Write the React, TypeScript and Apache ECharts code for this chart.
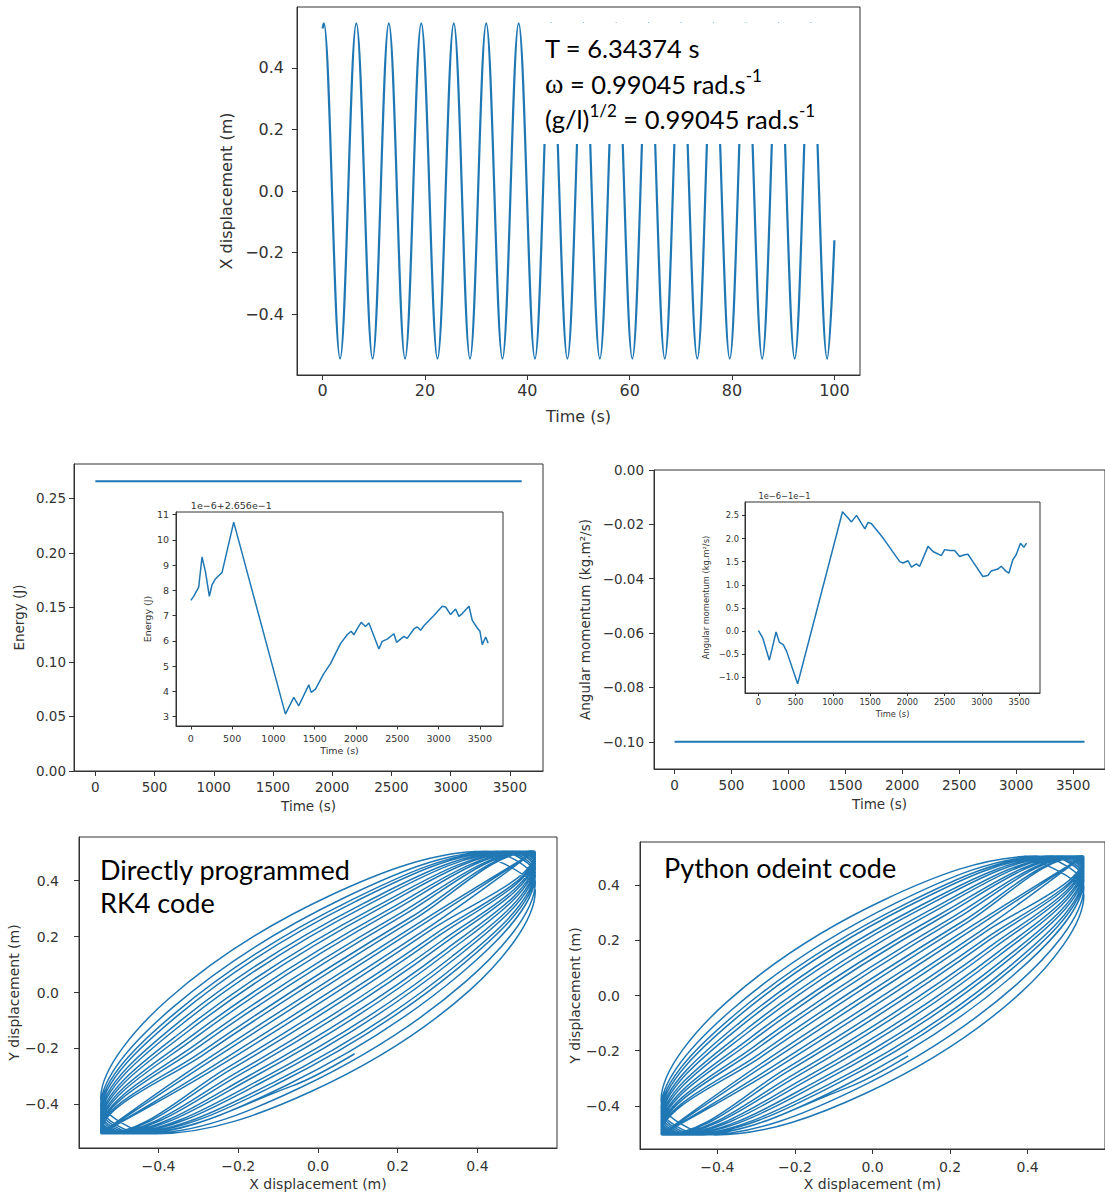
import React, { useEffect, useRef } from 'react';
import * as echarts from 'echarts';

const BLUE = '#1f77b4';
const INK = '#333333';
const FONT = 'DejaVu Sans';
const SLIDE_FONT = 'Lato';

// ---------- Top panel: X displacement vs time (turning points)
const swingTime = [0, 0.25, 3.42, 6.59, 9.77, 12.94, 16.11, 19.28, 22.45, 25.63, 28.8, 31.97, 35.14, 38.31, 41.49, 44.66, 47.83, 51.0, 54.17, 57.35, 60.52, 63.69, 66.86, 70.03, 73.21, 76.38, 79.55, 82.72, 85.89, 89.07, 92.24, 95.41, 98.58, 100];
const swingX = [0.528,
  0.545, -0.545, 0.545, -0.545, 0.545, -0.545, 0.545, -0.545,
  0.545, -0.545, 0.545, -0.545, 0.545, -0.545, 0.545, -0.545,
  0.545, -0.545, 0.545, -0.545, 0.545, -0.545, 0.545, -0.545,
  0.545, -0.545, 0.545, -0.545, 0.545, -0.545, 0.545, -0.545,
  -0.16];
const timeTicks = [0, 20, 40, 60, 80, 100];
const dispTicks = [-0.4, -0.2, 0, 0.2, 0.4];

// ---------- Middle panels
const longTime = [0, 3600];
const energyMain = [0.2656, 0.2656];
const angularMain = [-0.1, -0.1];
const longTimeTicks = [0, 500, 1000, 1500, 2000, 2500, 3000, 3500];
const energyTicks = [0, 0.05, 0.1, 0.15, 0.2, 0.25];
const angularTicks = [-0.1, -0.08, -0.06, -0.04, -0.02, 0];

const energyInsetTime = [0, 34, 95, 135, 176, 224, 257, 297, 337, 378, 519, 1145, 1246, 1307, 1428, 1457, 1509, 1610, 1691, 1812, 1893, 1941, 1974, 2014, 2063, 2115, 2156, 2277, 2317, 2378, 2459, 2491, 2580, 2620, 2701, 2742, 2782, 2822, 2943, 3044, 3085, 3145, 3206, 3246, 3287, 3368, 3408, 3469, 3501, 3529, 3570, 3600];
const energyInsetDev = [7.60, 7.76, 8.13, 9.32, 8.75, 7.76, 8.23, 8.45, 8.58, 8.71, 10.70, 3.10, 3.76, 3.43, 4.26, 3.96, 4.09, 4.70, 5.10, 5.89, 6.24, 6.38, 6.24, 6.47, 6.73, 6.57, 6.71, 5.68, 5.98, 6.07, 6.28, 5.94, 6.18, 6.10, 6.47, 6.55, 6.42, 6.60, 7.00, 7.37, 7.34, 7.04, 7.26, 6.97, 7.08, 7.37, 6.81, 6.51, 6.38, 5.85, 6.15, 5.91];
const energyInsetTicks = [3, 4, 5, 6, 7, 8, 9, 10, 11];

const angularInsetTime = [0, 58, 147, 237, 281, 335, 379, 527, 1129, 1183, 1250, 1317, 1429, 1473, 1518, 1674, 1897, 1942, 2009, 2054, 2121, 2165, 2277, 2344, 2455, 2500, 2567, 2634, 2701, 2768, 2813, 2879, 3013, 3080, 3125, 3214, 3259, 3326, 3362, 3415, 3460, 3518, 3563, 3600];
const angularInsetDev = [0.01, -0.15, -0.63, -0.02, -0.24, -0.30, -0.44, -1.14, 2.58, 2.48, 2.36, 2.50, 2.21, 2.35, 2.32, 2.01, 1.50, 1.47, 1.52, 1.38, 1.45, 1.40, 1.83, 1.72, 1.63, 1.76, 1.74, 1.74, 1.61, 1.65, 1.66, 1.50, 1.18, 1.20, 1.30, 1.34, 1.40, 1.29, 1.25, 1.54, 1.65, 1.90, 1.81, 1.90];
const angularInsetTicks = [-1, -0.5, 0, 0.5, 1, 1.5, 2, 2.5];

// ---------- Bottom panels: X–Y orbit, eight points read per loop
const orbitX = [
  0.3924,
  0.545, 0.3817, -0.0146, -0.4050, -0.545, -0.3760, 0.0304, 0.4213,
  0.545, 0.3703, -0.0462, -0.4360, -0.545, -0.3643, 0.0620, 0.4499,
  0.545, 0.3585, -0.0779, -0.4630, -0.545, -0.3523, 0.0936, 0.4752,
  0.545, 0.3464, -0.1093, -0.4865, -0.545, -0.3401, 0.1249, 0.4968,
  0.545, 0.3338, -0.1404, -0.5061, -0.545, -0.3274, 0.1557, 0.5145,
  0.545, 0.3210, -0.1710, -0.5219, -0.545, -0.3145, 0.1860, 0.5283,
  0.545, 0.3080, -0.2010, -0.5337, -0.545, -0.3014, 0.2157, 0.5380,
  0.545, 0.2947, -0.2303, -0.5413, -0.545, -0.2880, 0.2446, 0.5436,
  0.545, 0.2812, -0.2588, -0.545, -0.2743, 0.2725,
  0.545, 0.2622, -0.2794, -0.545, -0.2481, 0.2863,
  0.545, 0.5416, 0.2339, -0.2931, -0.545, -0.5385, -0.2193, 0.2997,
  0.545, 0.5341, 0.2046, -0.3064, -0.545, -0.5291, -0.1897, 0.3129,
  0.545, 0.5223, 0.1747, -0.3194, -0.545, -0.5156, -0.1594, 0.3258,
  0.545, 0.5067, 0.1442, -0.3322, -0.545, -0.4981, -0.1287, 0.3385,
  0.545, 0.4869, 0.1132, -0.3447, -0.545, -0.4768, -0.0976, 0.3508,
  0.545, 0.4637, 0.0818, -0.3570, -0.545, -0.4517, -0.0658, 0.0918,
];
const orbitY = [
  0.505,
  0.3633, 0.0094, -0.3522, -0.505, -0.3782, -0.0240, 0.3470, 0.505,
  0.3927, 0.0387, -0.3416, -0.505, -0.4062, -0.0534, 0.3362, 0.505,
  0.4190, 0.0681, -0.3306, -0.505, -0.4310, -0.0827, 0.3250, 0.505,
  0.4421, 0.0973, -0.3193, -0.505, -0.4524, -0.1118, 0.3136, 0.505,
  0.4618, 0.1261, -0.3077, -0.505, -0.4704, -0.1404, 0.3018, 0.505,
  0.4779, 0.1545, -0.2958, -0.505, -0.4846, -0.1685, 0.2898, 0.505,
  0.4904, 0.1824, -0.2837, -0.505, -0.4953, -0.1961, 0.2775, 0.505,
  0.4991, 0.2097, -0.2713, -0.505, -0.5020, -0.2230, 0.2651, 0.505,
  0.5039, 0.2362, -0.2588, -0.5049, -0.2491, 0.2522,
  0.5049, 0.2572, -0.2393, -0.5039, -0.2636, 0.2262,
  0.5019, 0.505, 0.2699, -0.2129, -0.4990, -0.505, -0.2761, 0.1995,
  0.4951, 0.505, 0.2821, -0.1858, -0.4903, -0.505, -0.2883, 0.1720,
  0.4845, 0.505, 0.2944, -0.1580, -0.4777, -0.505, -0.3003, 0.1439,
  0.4701, 0.505, 0.3062, -0.1296, -0.4615, -0.505, -0.3121, 0.1153,
  0.4521, 0.505, 0.3179, -0.1008, -0.4418, -0.505, -0.3236, 0.0864,
  0.4306, 0.505, 0.3293, -0.0717, -0.4186, -0.505, -0.3347, -0.2190,
];
const phaseTicks = [-0.4, -0.2, 0, 0.2, 0.4];

const fmt = (dec: number) => (v: number) => {
  const s = Math.abs(v).toFixed(dec);
  return (v < -1e-9 ? '\u2212' : '') + s;
};

const zip = (a: number[], b: number[]) => a.map((v, i) => [v, b[i]]);

type AxOpt = {
  name: string; nameGap: number; nameSize: number; size: number; dec: number;
  margin: number; tick: number;
};

function xAx(gridIndex: number, min: number, max: number, ticks: number[], o: AxOpt) {
  return {
    type: 'value', gridIndex, min, max, position: 'bottom',
    name: o.name, nameLocation: 'middle', nameGap: o.nameGap,
    nameTextStyle: { fontFamily: FONT, fontSize: o.nameSize, color: INK },
    axisLine: { show: true, onZero: false, lineStyle: { color: INK, width: 1 } },
    axisTick: { show: true, inside: false, length: o.tick, customValues: ticks, lineStyle: { color: INK, width: 1 } },
    axisLabel: { show: true, customValues: ticks, formatter: fmt(o.dec), fontFamily: FONT, fontSize: o.size, color: INK, margin: o.margin },
    splitLine: { show: false },
  };
}

function yAx(gridIndex: number, min: number, max: number, ticks: number[], o: AxOpt) {
  return {
    type: 'value', gridIndex, min, max, position: 'left',
    name: o.name, nameLocation: 'middle', nameGap: o.nameGap,
    nameTextStyle: { fontFamily: FONT, fontSize: o.nameSize, color: INK },
    axisLine: { show: true, onZero: false, lineStyle: { color: INK, width: 1 } },
    axisTick: { show: true, inside: false, length: o.tick, customValues: ticks, lineStyle: { color: INK, width: 1 } },
    axisLabel: { show: true, customValues: ticks, formatter: fmt(o.dec), fontFamily: FONT, fontSize: o.size, color: INK, margin: o.margin },
    splitLine: { show: false },
  };
}

function offsetAx(gridIndex: number, min: number, max: number, text: string, size: number) {
  return {
    type: 'value', gridIndex, min, max, position: 'left',
    name: text, nameLocation: 'end', nameGap: 2,
    nameTextStyle: { fontFamily: FONT, fontSize: size, color: INK, align: 'left', verticalAlign: 'bottom' },
    axisLine: { show: false }, axisTick: { show: false }, axisLabel: { show: false }, splitLine: { show: false },
  };
}

const line = (xi: number, yi: number, data: number[][], width: number, extra: any = {}) => ({
  type: 'line', xAxisIndex: xi, yAxisIndex: yi, data,
  symbol: 'none', showSymbol: false, silent: true,
  lineStyle: { color: BLUE, width }, itemStyle: { color: BLUE },
  ...extra,
});

const frame = { show: true, borderColor: INK, borderWidth: 1, backgroundColor: '#ffffff' };

function buildOption() {
  const sup = { fontFamily: SLIDE_FONT, fontSize: 17, color: '#000', padding: [0, 0, 17, 0] };
  const n = { fontFamily: SLIDE_FONT, fontSize: 25.5, color: '#000', lineHeight: 32 };
  const w = { fontFamily: 'Liberation Serif', fontSize: 28, color: '#000', lineHeight: 32 };
  return {
    animation: false,
    backgroundColor: '#ffffff',
    textStyle: { fontFamily: FONT },
    grid: [
      { left: 297, top: 7, width: 563, height: 368, ...frame },
      { left: 74, top: 464, width: 469, height: 307, ...frame },
      { left: 176, top: 512, width: 327, height: 214, ...frame },
      { left: 654, top: 470, width: 459, height: 299, ...frame },
      { left: 745, top: 502, width: 295, height: 191, ...frame },
      { left: 79, top: 837, width: 478, height: 311, ...frame },
      { left: 640, top: 842, width: 473, height: 307, ...frame },
    ],
    xAxis: [
      xAx(0, -5, 105, timeTicks, { name: 'Time (s)', nameGap: 33, nameSize: 16, size: 16, dec: 0, margin: 7, tick: 5 }),
      xAx(1, -180, 3780, longTimeTicks, { name: 'Time (s)', nameGap: 28, nameSize: 13.5, size: 13.5, dec: 0, margin: 9, tick: 5 }),
      xAx(2, -180, 3780, longTimeTicks, { name: 'Time (s)', nameGap: 19, nameSize: 9.5, size: 9.5, dec: 0, margin: 7, tick: 3.5 }),
      xAx(3, -180, 3780, longTimeTicks, { name: 'Time (s)', nameGap: 28, nameSize: 13.5, size: 13.5, dec: 0, margin: 9, tick: 5 }),
      xAx(4, -180, 3780, longTimeTicks, { name: 'Time (s)', nameGap: 17, nameSize: 8.3, size: 8.3, dec: 0, margin: 5, tick: 3 }),
      xAx(5, -0.5995, 0.5995, phaseTicks, { name: 'X displacement (m)', nameGap: 29, nameSize: 14, size: 14, dec: 1, margin: 11, tick: 5 }),
      xAx(6, -0.5995, 0.5995, phaseTicks, { name: 'X displacement (m)', nameGap: 28, nameSize: 14, size: 14, dec: 1, margin: 11, tick: 5 }),
    ],
    yAxis: [
      yAx(0, -0.598, 0.598, dispTicks, { name: 'X displacement (m)', nameGap: 63, nameSize: 16, size: 16, dec: 1, margin: 13, tick: 5 }),
      yAx(1, 0, 0.2815, energyTicks, { name: 'Energy (J)', nameGap: 48, nameSize: 13.5, size: 13.5, dec: 2, margin: 8, tick: 5 }),
      yAx(2, 2.63, 11.1, energyInsetTicks, { name: 'Energy (J)', nameGap: 24, nameSize: 9.5, size: 9.5, dec: 0, margin: 7, tick: 3.5 }),
      offsetAx(2, 2.63, 11.1, '1e\u22126+2.656e\u22121', 9.5),
      yAx(3, -0.11, 0, angularTicks, { name: 'Angular momentum (kg.m\u00b2/s)', nameGap: 62, nameSize: 13.5, size: 13.5, dec: 2, margin: 10, tick: 5 }),
      yAx(4, -1.34, 2.79, angularInsetTicks, { name: 'Angular momentum (kg.m\u00b2/s)', nameGap: 35, nameSize: 8.3, size: 8.3, dec: 1, margin: 6, tick: 3 }),
      offsetAx(4, -1.34, 2.79, '1e\u22126\u22121e\u22121', 8.3),
      yAx(5, -0.556, 0.556, phaseTicks, { name: 'Y displacement (m)', nameGap: 56, nameSize: 14, size: 14, dec: 1, margin: 20, tick: 5 }),
      yAx(6, -0.556, 0.556, phaseTicks, { name: 'Y displacement (m)', nameGap: 53, nameSize: 14, size: 14, dec: 1, margin: 20, tick: 5 }),
    ],
    series: [
      line(0, 0, zip(swingTime, swingX), 2.2, { smooth: 0.36, smoothMonotone: 'x' }),
      line(1, 1, zip(longTime, energyMain), 2),
      line(2, 2, zip(energyInsetTime, energyInsetDev), 1.5),
      line(3, 4, zip(longTime, angularMain), 2),
      line(4, 5, zip(angularInsetTime, angularInsetDev), 1.5),
      line(5, 7, zip(orbitX, orbitY), 1.5, { smooth: 0.35 }),
      line(6, 8, zip(orbitX, orbitY), 1.5, { smooth: 0.35 }),
    ],
    graphic: [
      { type: 'rect', z: 100, shape: { x: 541, y: 23, width: 317, height: 121 }, style: { fill: '#ffffff' } },
      { type: 'text', z: 101, x: 545, y: 47.5, style: { text: '{n|T = 6.34374 s}', rich: { n }, verticalAlign: 'middle', align: 'left' } },
      { type: 'text', z: 101, x: 545, y: 83.5, style: { text: '{w|\u03c9}{n| = 0.99045 rad.s}{s|-1}', rich: { n, w, s: sup }, verticalAlign: 'middle', align: 'left' } },
      { type: 'text', z: 101, x: 545, y: 118.5, style: { text: '{n|(g/l)}{s|1/2}{n| = 0.99045 rad.s}{s|-1}', rich: { n, s: sup }, verticalAlign: 'middle', align: 'left' } },
      { type: 'text', z: 101, x: 100, y: 853, style: { text: 'Directly programmed\nRK4 code', fontFamily: SLIDE_FONT, fontSize: 27, lineHeight: 33, fill: '#000', verticalAlign: 'top', align: 'left' } },
      { type: 'text', z: 101, x: 664, y: 851, style: { text: 'Python odeint code', fontFamily: SLIDE_FONT, fontSize: 27, lineHeight: 33, fill: '#000', verticalAlign: 'top', align: 'left' } },
    ],
  };
}

export default function App() {
  const ref = useRef<HTMLDivElement>(null);
  useEffect(() => {
    const chart = echarts.init(ref.current as HTMLDivElement, null, { renderer: 'svg' });
    chart.setOption(buildOption() as any);
    return () => chart.dispose();
  }, []);
  return (
    <div
      ref={ref}
      style={{ position: 'fixed', left: 0, top: 0, width: 1105, height: 1198, background: '#ffffff' }}
    />
  );
}
